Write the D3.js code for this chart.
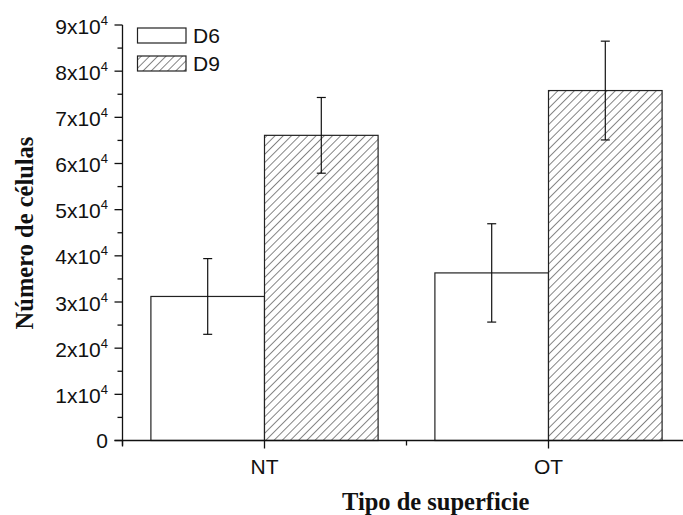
<!DOCTYPE html>
<html>
<head>
<meta charset="utf-8">
<script src="https://cdn.jsdelivr.net/npm/d3@7"></script>
<style>
  html, body { margin: 0; padding: 0; background: #fff; }
  svg { display: block; }
</style>
</head>
<body>
<svg id="chart" width="683" height="515"></svg>
<script>
// ---- data ----
const categories = ["NT", "OT"];
const seriesNames = ["D6", "D9"];
const valuesD6 = [31200, 36300];
const valuesD9 = [66100, 75800];
const errorsD6 = [8200, 10650];
const errorsD9 = [8200, 10700];
const yTickValues = [0, 10000, 20000, 30000, 40000, 50000, 60000, 70000, 80000, 90000];
const yTickMantissa = ["0", "1", "2", "3", "4", "5", "6", "7", "8", "9"];
const xTitle = "Tipo de superficie";
const yTitle = "Número de células";

const svg = d3.select("#chart");
const sans = "'Liberation Sans', Arial, sans-serif";
const serif = "'Liberation Serif', 'Times New Roman', serif";

const x0 = 122.5, xEnd = 690.5;
const y = d3.scaleLinear().domain([0, 90000]).range([440.5, 25]);
const x = d3.scaleBand().domain(categories).range([x0, xEnd]).paddingInner(0.2).paddingOuter(0.1);
const xs = d3.scaleBand().domain(seriesNames).range([0, x.bandwidth()]);

// hatch pattern
const hs = 5.8;
const defs = svg.append("defs");
const pat = defs.append("pattern")
  .attr("id", "hatch").attr("patternUnits", "userSpaceOnUse")
  .attr("width", hs).attr("height", hs)
  .attr("patternTransform", "rotate(45)");
pat.append("rect").attr("width", hs).attr("height", hs).attr("fill", "#fff");
pat.append("line").attr("x1", 0).attr("y1", 0).attr("x2", 0).attr("y2", hs)
  .attr("stroke", "#222").attr("stroke-width", 1.1);

const fills = { D6: "#fff", D9: "url(#hatch)" };
const vals = { D6: valuesD6, D9: valuesD9 };
const errs = { D6: errorsD6, D9: errorsD9 };

const rows = [];
categories.forEach((c, i) => seriesNames.forEach(s => rows.push({ c, s, v: vals[s][i], e: errs[s][i] })));

// bars
svg.append("g").selectAll("rect").data(rows).join("rect")
  .attr("x", d => x(d.c) + xs(d.s))
  .attr("y", d => y(d.v))
  .attr("width", xs.bandwidth())
  .attr("height", d => y(0) - y(d.v))
  .attr("fill", d => fills[d.s])
  .attr("stroke", "#222").attr("stroke-width", 1.2);

// error bars
const eg = svg.append("g").attr("stroke", "#111").attr("stroke-width", 1.2);
rows.forEach(d => {
  const cx = x(d.c) + xs(d.s) + xs.bandwidth() / 2;
  eg.append("line").attr("x1", cx).attr("x2", cx).attr("y1", y(d.v + d.e)).attr("y2", y(d.v - d.e));
  eg.append("line").attr("x1", cx - 4.5).attr("x2", cx + 4.5).attr("y1", y(d.v + d.e)).attr("y2", y(d.v + d.e));
  eg.append("line").attr("x1", cx - 4.5).attr("x2", cx + 4.5).attr("y1", y(d.v - d.e)).attr("y2", y(d.v - d.e));
});

// y axis
const ya = svg.append("g").attr("stroke", "#111").attr("stroke-width", 1.3);
ya.append("line").attr("x1", x0).attr("x2", x0).attr("y1", y(90000)).attr("y2", y(0) + 6);
yTickValues.forEach(v => {
  ya.append("line").attr("x1", x0 - 8).attr("x2", x0).attr("y1", y(v)).attr("y2", y(v));
  if (v < 90000) ya.append("line").attr("x1", x0 - 5).attr("x2", x0).attr("y1", y(v + 5000)).attr("y2", y(v + 5000));
});
const yl = svg.append("g").attr("font-family", sans).attr("font-size", 21).attr("fill", "#111");
yTickValues.forEach((v, i) => {
  if (v === 0) {
    yl.append("text").attr("x", 108).attr("y", y(v) + 7.5).attr("text-anchor", "end").text("0");
  } else {
    const t = yl.append("text").attr("x", 108).attr("y", y(v) + 8.5).attr("text-anchor", "end");
    t.append("tspan").text(yTickMantissa[i] + "x10");
    t.append("tspan").attr("font-size", 13).attr("dy", -9).text("4");
  }
});

// x axis
const xa = svg.append("g").attr("stroke", "#111").attr("stroke-width", 1.3);
xa.append("line").attr("x1", x0 - 8).attr("x2", 683).attr("y1", y(0)).attr("y2", y(0));
categories.forEach(c => {
  const cx = x(c) + x.bandwidth() / 2;
  xa.append("line").attr("x1", cx).attr("x2", cx).attr("y1", y(0)).attr("y2", y(0) + 8);
});
const mid = (x(categories[0]) + x(categories[1]) + x.bandwidth()) / 2;
xa.append("line").attr("x1", mid).attr("x2", mid).attr("y1", y(0)).attr("y2", y(0) + 5);
xa.append("line").attr("x1", x0).attr("x2", x0).attr("y1", y(0)).attr("y2", y(0) + 5);

svg.append("g").attr("font-family", sans).attr("font-size", 21).attr("fill", "#111")
  .selectAll("text").data(categories).join("text")
  .attr("x", c => x(c) + x.bandwidth() / 2).attr("y", 474)
  .attr("text-anchor", "middle").text(c => c);

// titles
svg.append("text").attr("x", 342).attr("y", 510)
  .attr("font-family", serif).attr("font-weight", "bold").attr("font-size", 24.5).attr("fill", "#111")
  .text(xTitle);
svg.append("text").attr("transform", "translate(33,233) rotate(-90)")
  .attr("text-anchor", "middle")
  .attr("font-family", serif).attr("font-weight", "bold").attr("font-size", 24.5).attr("fill", "#111")
  .text(yTitle);

// legend
const lg = svg.append("g");
seriesNames.forEach((s, i) => {
  const yy = 28 + i * 28;
  lg.append("rect").attr("x", 137.5).attr("y", yy).attr("width", 48.5).attr("height", 15)
    .attr("fill", fills[s]).attr("stroke", "#222").attr("stroke-width", 1.2);
  lg.append("text").attr("x", 193).attr("y", yy + 15)
    .attr("font-family", sans).attr("font-size", 21).attr("fill", "#111").text(s);
});
</script>
</body>
</html>
